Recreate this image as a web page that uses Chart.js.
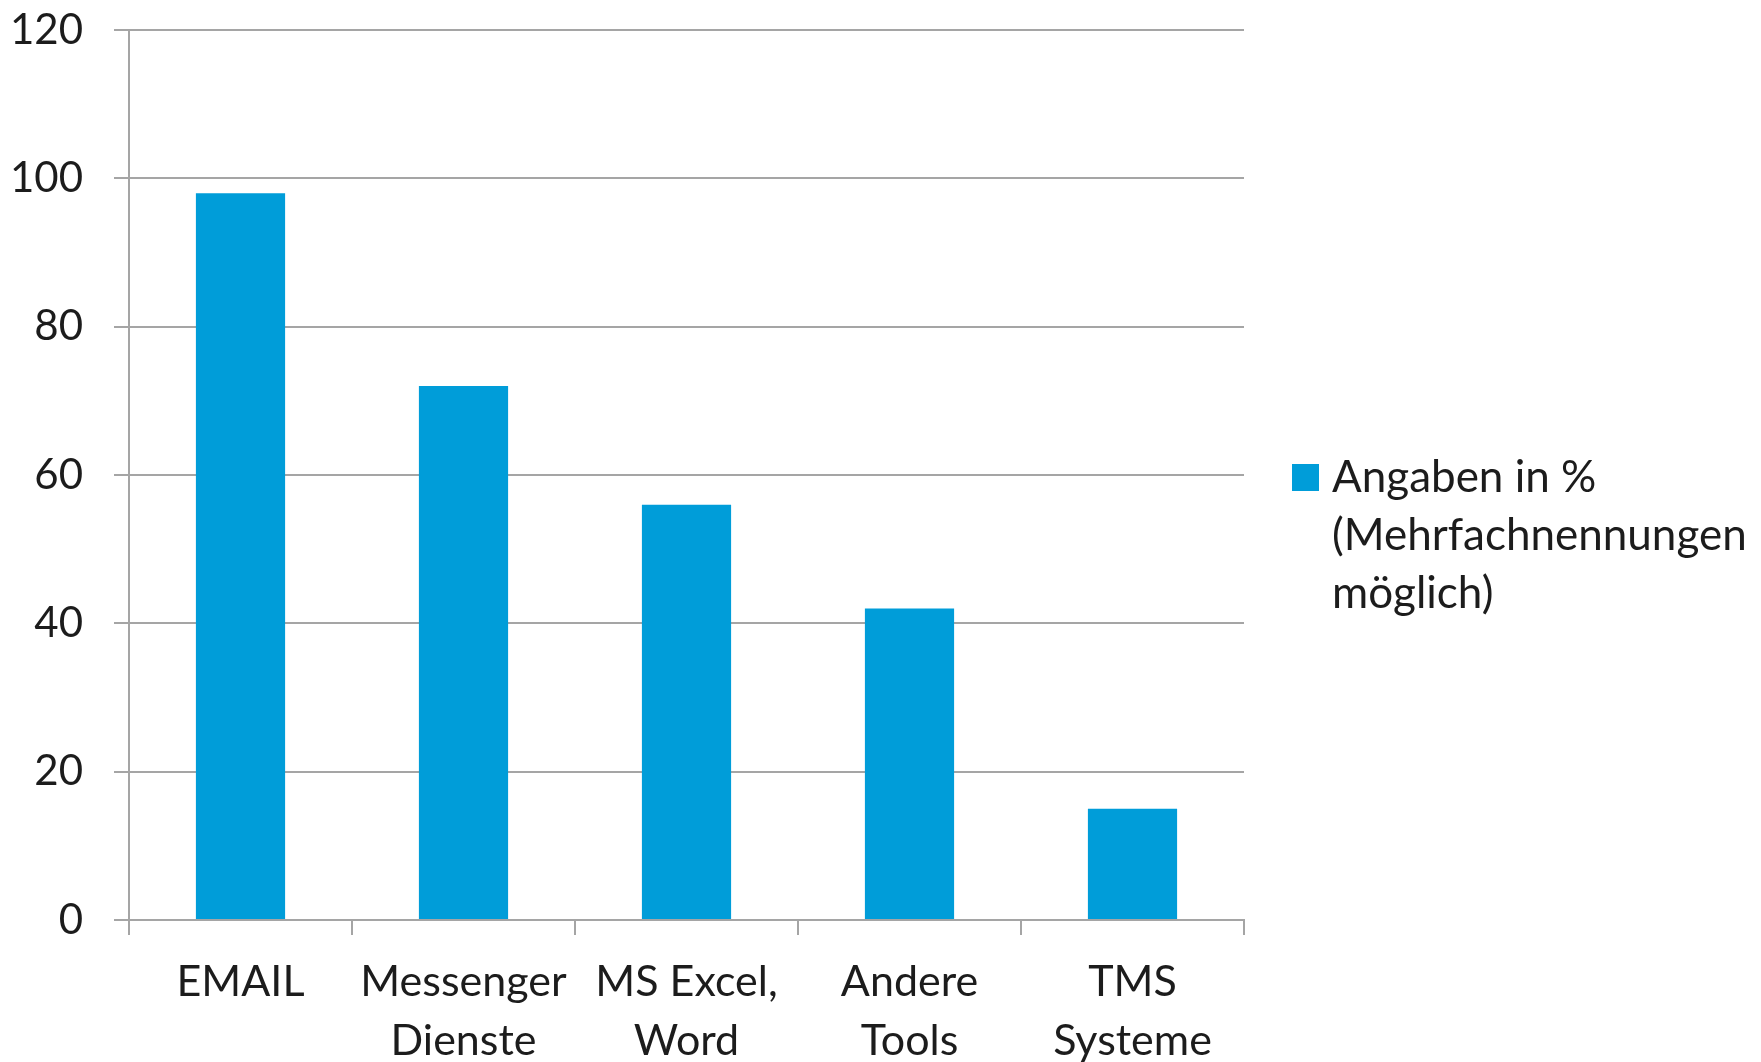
<!DOCTYPE html>
<html>
<head>
<meta charset="utf-8">
<script src="https://cdn.jsdelivr.net/npm/chart.js@4/dist/chart.umd.min.js"></script>
<style>
  html, body { margin: 0; padding: 0; background: #ffffff; overflow: hidden; }
  #wrap { width: 1761px; height: 1062px; }
</style>
</head>
<body>
<div id="wrap"><canvas id="c" width="1761" height="1062"></canvas></div>
<script>
// ---- data ----
const categories = [['EMAIL'], ['Messenger', 'Dienste'], ['MS Excel,', 'Word'], ['Andere', 'Tools'], ['TMS', 'Systeme']];
const values = [98, 72, 56, 42, 15];
const legendLines = ['Angaben in %', '(Mehrfachnennungen', 'möglich)'];
const yTicks = [0, 20, 40, 60, 80, 100, 120];

// ---- style ----
const barColor = '#009DD9';
const gridColor = '#A5A5A5';
const textColor = '#1c1c1c';
const fontFamily = 'Lato, "Open Sans", sans-serif';

const sideLegend = {
  id: 'sideLegend',
  afterDraw(chart) {
    const ctx = chart.ctx;
    const ds = chart.data.datasets[0];
    const x0 = chart.chartArea.right + 48;
    const yb = 492;
    ctx.save();
    ctx.fillStyle = ds.backgroundColor;
    ctx.fillRect(x0, 464, 27, 27);
    ctx.fillStyle = textColor;
    ctx.font = '44px ' + fontFamily;
    ctx.textBaseline = 'alphabetic';
    ctx.textAlign = 'left';
    ds.legendLines.forEach((t, i) => ctx.fillText(t, x0 + 40, yb + i * 58));
    ctx.restore();
  }
};

new Chart(document.getElementById('c'), {
  type: 'bar',
  data: {
    labels: categories,
    datasets: [{
      label: legendLines.join(' '),
      legendLines: legendLines,
      data: values,
      backgroundColor: barColor,
      borderWidth: 0,
      barPercentage: 0.4,
      categoryPercentage: 1.0
    }]
  },
  plugins: [sideLegend],
  options: {
    responsive: false,
    devicePixelRatio: 1,
    animation: false,
    layout: { padding: { top: 30, right: 517, bottom: 0, left: 0 } },
    plugins: {
      legend: { display: false },
      tooltip: { enabled: false }
    },
    scales: {
      x: {
        grid: {
          display: true,
          drawOnChartArea: false,
          drawTicks: true,
          tickLength: 15,
          color: gridColor,
          lineWidth: 2,
          offset: true
        },
        border: { display: true, color: gridColor, width: 2 },
        ticks: {
          color: textColor,
          font: { family: fontFamily, size: 43, lineHeight: '59px' },
          padding: 18,
          maxRotation: 0,
          autoSkip: false
        },
        afterFit(scale) { scale.height = 142; scale.paddingLeft = 0; scale.paddingRight = 0; }
      },
      y: {
        min: 0,
        max: 120,
        afterBuildTicks(scale) { scale.ticks = yTicks.map(v => ({ value: v })); },
        grid: {
          color: gridColor,
          lineWidth: 2,
          tickLength: 15,
          drawTicks: true
        },
        border: { display: true, color: gridColor, width: 2 },
        ticks: {
          color: textColor,
          font: { family: fontFamily, size: 42 },
          padding: 31
        },
        afterFit(scale) { scale.width = 129; scale.paddingTop = 0; scale.paddingBottom = 0; }
      }
    }
  }
});
</script>
</body>
</html>
